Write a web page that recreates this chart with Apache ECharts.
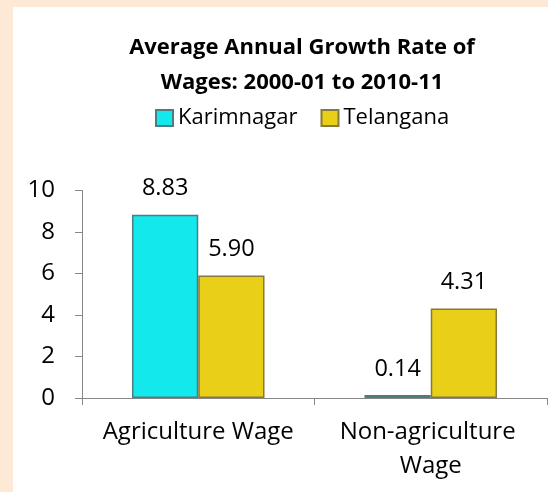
<!DOCTYPE html>
<html>
<head>
<meta charset="utf-8">
<script src="https://cdn.jsdelivr.net/npm/echarts@6/dist/echarts.min.js"></script>
<style>
  html, body { margin: 0; padding: 0; width: 548px; height: 492px; background: #FEE8D6; overflow: hidden; }
  #chart { position: absolute; left: 13px; top: 7px; width: 535px; height: 485px; background: #ffffff; }
</style>
</head>
<body>
<div id="chart"></div>
<script>
const titleLines = ['Average Annual Growth Rate of', 'Wages: 2000-01 to 2010-11'];
const categories = ['Agriculture Wage', 'Non-agriculture Wage'];
const seriesNames = ['Karimnagar', 'Telangana'];
const karimnagar = [8.83, 0.14];
const telangana = [5.90, 4.31];
const yTicks = [0, 2, 4, 6, 8, 10];

const FONT = '"Open Sans", sans-serif';
const chart = echarts.init(document.getElementById('chart'));
const barColors = ['#13E9ED', '#E9CF17'];
const barBorders = ['#4E7C80', '#857A3C'];

function mkSeries(name, data, i) {
  return {
    name: name,
    type: 'bar',
    data: data,
    barGap: '0%',
    barCategoryGap: '43%',
    itemStyle: { color: barColors[i], borderColor: barBorders[i], borderWidth: 1.5 },
    label: {
      show: true,
      position: 'top',
      distance: 14,
      color: '#000',
      fontFamily: FONT,
      fontSize: 23.5,
      formatter: p => p.value.toFixed(2)
    }
  };
}

chart.setOption({
  animation: false,
  textStyle: { fontFamily: FONT },
  title: {
    text: titleLines.join('\n'),
    left: 284,
    top: 18,
    textAlign: 'center',
    textStyle: { fontFamily: FONT, fontWeight: 'bold', fontSize: 22, color: '#000', lineHeight: 35 }
  },
  legend: {
    data: seriesNames,
    left: 137,
    top: 95,
    itemWidth: 17,
    itemHeight: 16,
    itemGap: 23,
    icon: 'rect',
    textStyle: { fontFamily: FONT, fontSize: 22, color: '#000' }
  },
  grid: { left: 69, right: 1, top: 183.5, bottom: 94, containLabel: false },
  xAxis: {
    type: 'category',
    data: categories,
    axisLine: { lineStyle: { color: '#868686', width: 1 } },
    axisTick: { show: true, length: 7, lineStyle: { color: '#868686' } },
    axisLabel: {
      interval: 0,
      color: '#000', fontFamily: FONT, fontSize: 24, margin: 17,
      width: 220, overflow: 'break', lineHeight: 34
    }
  },
  yAxis: {
    type: 'value',
    min: yTicks[0],
    max: yTicks[yTicks.length - 1],
    interval: 2,
    splitLine: { show: false },
    axisLine: { show: true, lineStyle: { color: '#868686', width: 1 } },
    axisTick: { show: true, length: 7, lineStyle: { color: '#868686' } },
    axisLabel: { color: '#000', fontFamily: FONT, fontSize: 24, margin: 27 }
  },
  series: [mkSeries(seriesNames[0], karimnagar, 0), mkSeries(seriesNames[1], telangana, 1)]
});
</script>
</body>
</html>
